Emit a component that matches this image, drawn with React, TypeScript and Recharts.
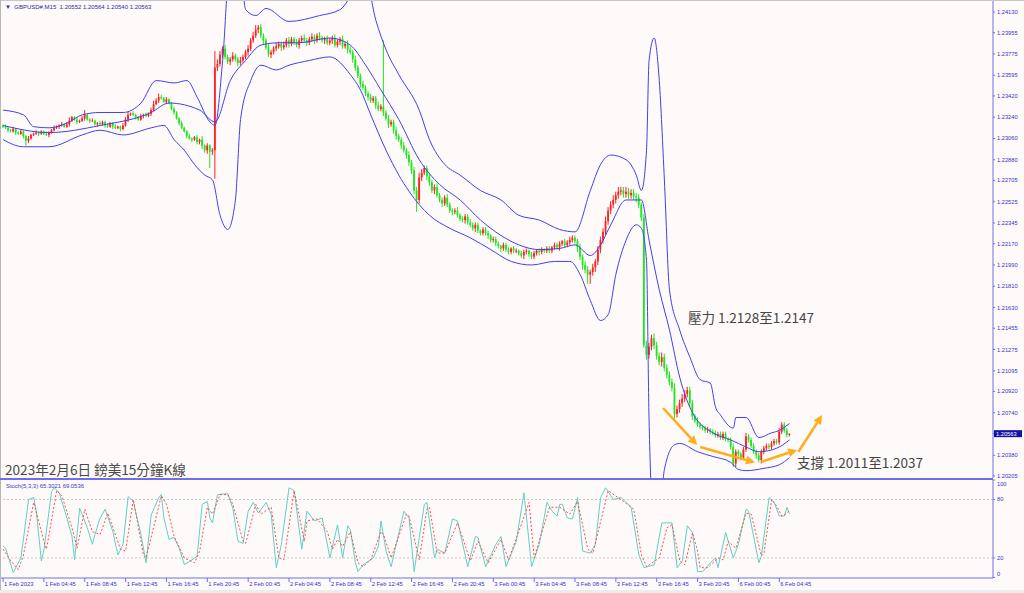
import React from 'react';
import { ComposedChart, Bar, Line, XAxis, YAxis, ReferenceLine } from 'recharts';

const BASE = 1.2;
const toPrice = (pips: number) => BASE + pips / 10000;

// GBPUSD M15 closes, pips above 1.20000 (bar 0 = 1 Feb 00:45)
const firstOpen = 317;
const closes = [
  316, 315, 313, 312, 314, 311, 310, 312, 308, 304, 306, 309, 310, 311, 310, 312, 310, 309, 311, 313,
  315, 316, 317, 318, 316, 318, 321, 324, 322, 320, 321, 323, 326, 322, 321, 321, 318, 319, 318, 320,
  317, 316, 319, 316, 315, 316, 314, 317, 322, 326, 327, 326, 324, 322, 325, 326, 325, 327, 330, 335,
  338, 341, 340, 337, 339, 336, 331, 328, 323, 319, 315, 312, 308, 306, 305, 307, 303, 305, 300, 296,
  300, 295, 296, 366, 369, 377, 382, 375, 371, 373, 376, 373, 370, 372, 375, 379, 382, 389, 393, 398,
  400, 393, 389, 383, 377, 379, 382, 384, 386, 383, 385, 389, 386, 390, 387, 385, 389, 391, 389, 387,
  390, 392, 389, 393, 391, 389, 390, 387, 389, 391, 385, 388, 390, 384, 386, 381, 379, 373, 366, 359,
  352, 349, 344, 341, 338, 340, 334, 331, 333, 328, 323, 318, 320, 313, 308, 305, 300, 296, 292, 286,
  279, 262, 254, 273, 277, 281, 274, 269, 262, 265, 258, 254, 251, 256, 250, 245, 244, 245, 241, 238,
  237, 240, 235, 233, 230, 233, 228, 226, 229, 226, 224, 220, 221, 217, 215, 213, 216, 212, 210, 213,
  211, 211, 209, 207, 210, 211, 208, 206, 209, 211, 210, 212, 211, 213, 211, 214, 216, 214, 217, 219,
  216, 218, 220, 222, 219, 214, 206, 199, 195, 191, 193, 197, 202, 212, 220, 227, 236, 245, 250, 254,
  258, 261, 262, 259, 261, 258, 260, 257, 256, 250, 239, 131, 123, 130, 137, 131, 122, 117, 121, 112,
  106, 100, 95, 73, 77, 82, 86, 90, 93, 82, 71, 67, 64, 62, 61, 59, 60, 58, 57, 55,
  56, 53, 56, 52, 51, 45, 31, 41, 39, 36, 43, 54, 51, 46, 41, 38, 34, 41, 44, 46,
  45, 48, 50, 49, 58, 64, 59, 55.2, 56.3,
];
const wickUp = [
  1, 2, 1, 1, 2, 1, 1, 2, 1, 1, 2, 1, 1, 2, 1, 1, 1, 2, 1, 1,
  2, 1, 1, 2, 1, 2, 3, 1, 1, 2, 1, 2, 4, 1, 1, 2, 1, 1, 2, 1,
  1, 2, 1, 1, 2, 1, 1, 2, 2, 3, 1, 2, 1, 1, 2, 1, 2, 1, 2, 3,
  2, 3, 2, 1, 2, 1, 1, 2, 1, 1, 2, 1, 1, 2, 1, 1, 2, 1, 3, 1,
  2, 1, 2, 14, 4, 3, 2, 3, 2, 2, 3, 2, 2, 3, 2, 2, 3, 2, 3, 4,
  2, 3, 2, 2, 3, 2, 2, 3, 2, 2, 3, 2, 3, 2, 2, 3, 2, 2, 3, 2,
  2, 3, 2, 2, 3, 2, 2, 3, 2, 2, 3, 2, 2, 3, 2, 3, 3, 2, 3, 2,
  2, 3, 2, 2, 3, 2, 2, 3, 2, 56, 2, 3, 2, 2, 3, 2, 2, 3, 2, 3,
  2, 3, 3, 4, 3, 2, 2, 3, 2, 2, 3, 2, 2, 2, 3, 2, 2, 2, 3, 2,
  2, 2, 2, 3, 2, 2, 2, 1, 2, 2, 2, 1, 2, 2, 2, 1, 2, 2, 2, 1,
  2, 2, 1, 2, 2, 2, 1, 2, 2, 1, 2, 2, 1, 2, 2, 1, 2, 2, 2, 1,
  2, 2, 3, 2, 2, 2, 3, 2, 3, 3, 2, 3, 2, 3, 3, 3, 4, 3, 3, 4,
  3, 4, 3, 3, 4, 3, 3, 3, 3, 3, 2, 3, 4, 3, 3, 4, 3, 3, 4, 3,
  3, 3, 3, 4, 3, 3, 4, 3, 3, 3, 3, 2, 3, 2, 2, 2, 2, 1, 2, 2,
  2, 2, 2, 2, 1, 2, 3, 2, 2, 2, 2, 3, 2, 2, 2, 2, 2, 2, 2, 2,
  2, 2, 2, 2, 3, 2, 2, 2, 0.1,
];
const wickDn = [
  1, 1, 2, 1, 1, 2, 1, 1, 2, 4, 2, 1, 1, 1, 2, 1, 1, 1, 2, 1,
  1, 1, 2, 1, 1, 1, 2, 1, 1, 2, 1, 1, 2, 1, 2, 1, 1, 2, 1, 1,
  2, 1, 1, 2, 1, 1, 2, 1, 1, 2, 1, 1, 2, 1, 1, 2, 1, 1, 2, 1,
  1, 2, 1, 1, 2, 1, 1, 2, 1, 2, 1, 1, 2, 1, 2, 1, 2, 2, 3, 2,
  3, 14, 3, 24, 3, 2, 3, 2, 2, 3, 2, 2, 3, 2, 2, 2, 3, 2, 2, 2,
  3, 2, 3, 2, 2, 3, 2, 2, 2, 3, 2, 2, 3, 2, 2, 2, 3, 2, 2, 3,
  2, 2, 3, 2, 2, 2, 3, 2, 2, 3, 2, 2, 3, 2, 2, 3, 2, 3, 3, 2,
  3, 2, 2, 3, 2, 2, 3, 2, 2, 3, 2, 3, 2, 3, 3, 2, 3, 2, 3, 3,
  3, 3, 10, 3, 3, 2, 3, 3, 2, 3, 2, 2, 3, 2, 2, 2, 3, 2, 2, 2,
  2, 3, 2, 2, 2, 3, 2, 2, 2, 2, 3, 2, 2, 2, 2, 3, 2, 2, 2, 2,
  2, 2, 2, 2, 3, 2, 2, 2, 2, 2, 3, 2, 2, 2, 2, 2, 2, 2, 3, 2,
  2, 2, 2, 2, 2, 4, 3, 4, 3, 8, 8, 3, 4, 3, 3, 3, 3, 3, 3, 3,
  3, 3, 3, 3, 3, 3, 3, 3, 4, 3, 3, 2, 4, 3, 3, 3, 3, 3, 4, 3,
  3, 3, 3, 4, 3, 3, 3, 3, 3, 3, 3, 2, 2, 2, 2, 2, 2, 2, 2, 2,
  2, 2, 2, 2, 2, 2, 3, 3, 2, 2, 2, 2, 2, 2, 2, 3, 2, 3, 2, 2,
  2, 2, 2, 2, 2, 2, 2, 2, 1.2,
];

// Bollinger bands: [bar, pips]
const bbUpper = [
  [0, 330], [8, 326], [12, 316], [18, 315], [25, 319], [31, 326], [38, 328], [47, 328], [54, 336],
  [60, 355], [67, 353], [72, 355], [76, 341], [81, 320], [83, 317], [86, 372], [89, 457], [93, 449],
  [95, 415], [99, 410], [103, 416], [112, 405], [124, 410], [132, 415], [138, 432], [142, 440],
  [146, 406], [150, 381], [155, 360], [163, 330], [167, 305], [173, 284], [179, 275], [187, 262],
  [195, 254], [202, 241], [210, 237], [218, 229], [224, 227], [230, 262], [234, 284], [238, 292],
  [244, 288], [248, 275], [250, 262], [252, 296], [253, 372], [255, 391], [257, 355], [259, 271],
  [261, 178], [265, 144], [269, 121], [273, 102], [277, 99], [279, 79], [281, 72], [286, 61],
  [287, 70], [291, 70], [296, 53], [301, 57], [304, 59], [308, 65],
];
const bbMiddle = [
  [0, 317], [18, 311], [38, 317], [58, 328], [65, 336], [77, 330], [83, 320], [89, 355], [95, 372],
  [101, 385], [108, 387], [116, 387], [128, 391], [136, 385], [142, 368], [148, 347], [155, 322],
  [163, 288], [171, 267], [179, 254], [187, 237], [195, 224], [202, 216], [210, 212], [218, 213],
  [224, 216], [230, 207], [234, 216], [238, 233], [244, 254], [250, 254], [253, 220], [257, 178],
  [261, 144], [265, 104], [270, 74], [278, 57], [285, 51], [291, 45], [296, 41], [303, 44], [308, 51],
];
const bbLower = [
  [0, 305], [8, 299], [18, 299], [31, 309], [38, 313], [47, 309], [58, 315], [63, 317], [67, 305],
  [71, 296], [75, 284], [79, 275], [82, 271], [85, 241], [88, 229], [91, 254], [93, 322], [97, 355],
  [101, 368], [107, 364], [112, 368], [120, 372], [128, 375], [136, 360], [140, 347], [144, 326],
  [150, 296], [155, 275], [163, 250], [167, 241], [175, 230], [183, 222], [191, 212], [199, 202],
  [207, 199], [216, 202], [222, 202], [226, 191], [230, 169], [234, 152], [237, 157], [240, 191],
  [244, 220], [248, 233], [250, 230], [252, 203], [253, 68], [255, -25], [257, -17], [259, 26],
  [263, 47], [265, 48], [272, 41], [278, 37], [285, 32], [288, 26], [291, 25], [298, 27], [304, 30],
  [308, 36],
];

// Stochastic (5,3,3): [bar, value]
const stochK = [
  [0, 32], [1, 30], [4, 5], [7, 20], [10, 80], [12, 82], [13, 68], [15, 17], [16, 28], [19, 88],
  [20, 92], [22, 87], [25, 61], [27, 42], [28, 18], [30, 71], [33, 51], [35, 34], [36, 44], [38, 61],
  [40, 70], [43, 47], [45, 23], [47, 34], [49, 83], [51, 78], [54, 44], [56, 15], [58, 64], [61, 82],
  [62, 85], [63, 61], [65, 39], [67, 41], [69, 30], [71, 13], [74, 18], [76, 22], [78, 75], [80, 78],
  [81, 61], [82, 56], [84, 85], [88, 86], [90, 71], [92, 37], [94, 35], [96, 68], [98, 77], [100, 66],
  [103, 77], [105, 65], [107, 10], [109, 34], [112, 92], [114, 89], [117, 29], [119, 68], [122, 58],
  [125, 61], [128, 20], [131, 54], [133, 20], [135, 53], [136, 49], [138, 15], [139, 6], [141, 13],
  [145, 20], [147, 32], [148, 58], [150, 27], [152, 11], [154, 34], [157, 68], [159, 61], [161, 6],
  [165, 75], [166, 77], [169, 20], [170, 29], [173, 25], [176, 60], [178, 58], [182, 11], [185, 42],
  [186, 41], [189, 11], [193, 34], [195, 42], [197, 11], [201, 37], [204, 87], [207, 11], [210, 34],
  [213, 77], [215, 68], [217, 63], [218, 75], [219, 75], [221, 61], [223, 60], [225, 82], [227, 27],
  [230, 25], [232, 34], [234, 82], [236, 92], [239, 80], [242, 82], [244, 77], [246, 72], [249, 23],
  [251, 10], [255, 13], [258, 56], [262, 56], [264, 10], [266, 17], [268, 53], [270, 46], [272, 6],
  [274, 6], [277, 15], [279, 20], [280, 10], [283, 46], [286, 20], [288, 34], [291, 70], [292, 68],
  [296, 15], [297, 22], [300, 82], [302, 77], [304, 63], [306, 63], [307, 72], [308, 65.3021],
];
const stochD = [
  [0, 29], [3, 17], [6, 8], [8, 23], [12, 77], [16, 37], [17, 29], [21, 89], [23, 84], [27, 51],
  [29, 30], [32, 70], [35, 47], [38, 44], [41, 66], [46, 29], [48, 27], [51, 80], [55, 23], [56, 20],
  [62, 84], [64, 75], [67, 42], [71, 20], [75, 15], [77, 27], [80, 72], [82, 65], [85, 85], [88, 85],
  [90, 75], [94, 37], [95, 35], [99, 75], [101, 65], [105, 72], [108, 20], [110, 18], [114, 89],
  [118, 37], [119, 58], [123, 60], [127, 47], [129, 29], [131, 39], [133, 32], [136, 47], [139, 15],
  [141, 11], [144, 18], [148, 47], [149, 44], [152, 20], [158, 65], [159, 63], [163, 18], [166, 70],
  [167, 72], [170, 25], [173, 25], [178, 56], [183, 17], [186, 37], [190, 15], [195, 39], [198, 18],
  [206, 77], [208, 20], [214, 72], [218, 72], [222, 65], [225, 78], [229, 29], [231, 25], [237, 89],
  [243, 78], [247, 70], [250, 23], [252, 11], [257, 20], [260, 51], [262, 54], [265, 17], [267, 13],
  [270, 46], [272, 27], [273, 10], [276, 10], [280, 20], [282, 18], [284, 37], [287, 30], [291, 66],
  [293, 65], [297, 22], [298, 25], [301, 80], [303, 73], [305, 63], [307, 66], [308, 69.0536],
];

const priceTicks = [
  1.2413, 1.23955, 1.23775, 1.23595, 1.2342, 1.2324, 1.2306, 1.2288, 1.22705, 1.22525, 1.22345,
  1.2217, 1.2199, 1.2181, 1.2163, 1.21455, 1.21275, 1.21095, 1.2092, 1.2074, 1.2038, 1.20205,
];
const stochTicks = [0, 20, 80, 100];
const timeTicks = [0, 16, 32, 48, 64, 80, 96, 112, 128, 144, 160, 176, 192, 208, 224, 240, 256, 272, 288, 304];
const timeLabels = [
  '1 Feb 2023', '1 Feb 04:45', '1 Feb 08:45', '1 Feb 12:45', '1 Feb 16:45', '1 Feb 20:45',
  '2 Feb 00:45', '2 Feb 04:45', '2 Feb 08:45', '2 Feb 12:45', '2 Feb 16:45', '2 Feb 20:45',
  '3 Feb 00:45', '3 Feb 04:45', '3 Feb 08:45', '3 Feb 12:45', '3 Feb 16:45', '3 Feb 20:45',
  '6 Feb 00:45', '6 Feb 04:45',
];

// hand-drawn orange arrows: [[bar, pips], [bar, pips]]
const arrows = [
  [[258.5, 78], [271.8, 46.7]],
  [[273, 45], [294.5, 32]],
  [[297, 32.5], [311, 42.5]],
  [[311.5, 41], [320.8, 72]],
];

const BG = '#fffafa';
const AXIS = '#6e6ee8';
const LABEL = '#3434c4';
const UP = '#ff1f1f';
const DOWN = '#1ee61e';
const BAND = '#4040f0';
const ORANGE = '#ffad1a';
const FONT = '"Liberation Sans", Arial, sans-serif';
const CJK = '"Noto Sans CJK TC", "Noto Sans", sans-serif';

const X_DOMAIN = [-1.2, 387.7];
const Y_DOMAIN = [toPrice(18.8), toPrice(423.15)];

const candles = closes.map((c, i) => {
  const o = i === 0 ? firstOpen : closes[i - 1];
  const h = Math.max(o, c) + wickUp[i];
  const l = Math.min(o, c) - wickDn[i];
  return { i, o: toPrice(o), c: toPrice(c), h: toPrice(h), l: toPrice(l), range: [toPrice(l), toPrice(h)] };
});
const lastClose = candles[candles.length - 1].c;

const band = (pts: number[][]) => pts.map(([i, v]) => ({ i, v: toPrice(v) }));
const series = (pts: number[][]) => pts.map(([i, v]) => ({ i, v }));

const Candle = (props: any) => {
  const { x, y, width, height, payload } = props;
  const top = Math.min(y, y + height);
  const span = Math.abs(height);
  const k = payload.h === payload.l ? 0 : span / (payload.h - payload.l);
  const yOf = (p: number) => top + (payload.h - p) * k;
  const cx = x + width / 2;
  const color = payload.c >= payload.o ? UP : DOWN;
  const bTop = yOf(Math.max(payload.o, payload.c));
  const bBot = yOf(Math.min(payload.o, payload.c));
  return (
    <g>
      <line x1={cx} x2={cx} y1={top} y2={top + span} stroke={color} strokeWidth={1} />
      <rect x={cx - 0.9} y={bTop} width={1.8} height={Math.max(bBot - bTop, 0.8)} fill={color} />
    </g>
  );
};

const Arrow = (props: any) => {
  const { x1, y1, x2, y2 } = props;
  const a = Math.atan2(y2 - y1, x2 - x1);
  const bx = x2 - 9 * Math.cos(a);
  const by = y2 - 9 * Math.sin(a);
  const px = -Math.sin(a) * 4.5;
  const py = Math.cos(a) * 4.5;
  return (
    <g>
      <line x1={x1} y1={y1} x2={bx} y2={by} stroke={ORANGE} strokeWidth={2.5} />
      <polygon points={`${x2},${y2} ${bx + px},${by + py} ${bx - px},${by - py}`} fill={ORANGE} />
    </g>
  );
};

const PriceTick = (props: any) => {
  const { x, y, payload } = props;
  const v = payload.value;
  if (Math.abs(v - lastClose) < 1e-7) {
    return (
      <g>
        <rect x={x - 3} y={y - 3.5} width={28} height={7} fill="#1212a6" />
        <text x={x - 1} y={y} dy={2} fontSize={5.7} fontFamily={FONT} fill="#ffffff">{v.toFixed(5)}</text>
      </g>
    );
  }
  return (
    <text x={x} y={y} dy={2} fontSize={5.7} fontFamily={FONT} fill={LABEL}>{v.toFixed(5)}</text>
  );
};

const StochTick = (props: any) => {
  const { x, y, payload } = props;
  const shift = payload.value === 100 ? 4 : payload.value === 0 ? -3.4 : 0;
  return (
    <text x={x} y={y + shift} dy={2} fontSize={5.7} fontFamily={FONT} fill={LABEL}>{payload.value}</text>
  );
};

const TimeTick = (props: any) => {
  const { x, y, payload } = props;
  const k = timeTicks.indexOf(payload.value);
  return (
    <text x={x + 1} y={y} dy={4} fontSize={5.8} fontFamily={FONT} fill={LABEL}>{timeLabels[k]}</text>
  );
};

export default function App() {
  return (
    <div style={{ position: 'absolute', left: 0, top: 0, width: 1024, height: 593, background: BG, overflow: 'hidden' }}>
      <div style={{ position: 'absolute', left: 0, top: 0 }}>
        <ComposedChart width={1024} height={478} data={candles} margin={{ top: 0, right: 0, bottom: 0, left: 0 }}>
          <XAxis dataKey="i" type="number" domain={X_DOMAIN} allowDataOverflow hide />
          <YAxis
            orientation="right"
            width={31}
            type="number"
            domain={Y_DOMAIN}
            allowDataOverflow
            ticks={[...priceTicks, lastClose]}
            interval={0}
            tick={<PriceTick />}
            tickSize={2}
            tickMargin={2}
            stroke={AXIS}
            axisLine={{ stroke: AXIS }}
            tickLine={{ stroke: AXIS }}
          />
          <Line data={band(bbUpper)} dataKey="v" type="monotone" stroke={BAND} strokeWidth={1} dot={false} isAnimationActive={false} />
          <Line data={band(bbMiddle)} dataKey="v" type="monotone" stroke={BAND} strokeWidth={1} dot={false} isAnimationActive={false} />
          <Line data={band(bbLower)} dataKey="v" type="monotone" stroke={BAND} strokeWidth={1} dot={false} isAnimationActive={false} />
          <Bar dataKey="range" barSize={3} shape={<Candle />} isAnimationActive={false} />
          {arrows.map((s, n) => (
            <ReferenceLine
              key={n}
              segment={[{ x: s[0][0], y: toPrice(s[0][1]) }, { x: s[1][0], y: toPrice(s[1][1]) }]}
              shape={Arrow}
            />
          ))}
        </ComposedChart>
      </div>

      <div style={{ position: 'absolute', left: 0, top: 478 }}>
        <ComposedChart width={1024} height={115} margin={{ top: 2, right: 0, bottom: 0, left: 0 }}>
          <XAxis
            dataKey="i"
            type="number"
            domain={X_DOMAIN}
            allowDataOverflow
            ticks={timeTicks}
            interval={0}
            height={15}
            tick={<TimeTick />}
            tickSize={4}
            tickMargin={0}
            stroke={AXIS}
          />
          <YAxis
            orientation="right"
            width={31}
            type="number"
            domain={[-0.6, 100]}
            allowDataOverflow
            ticks={stochTicks}
            interval={0}
            tick={<StochTick />}
            tickSize={2}
            tickMargin={2}
            stroke={AXIS}
          />
          <ReferenceLine y={80} stroke="#cccccc" strokeDasharray="2 2" />
          <ReferenceLine y={20} stroke="#cccccc" strokeDasharray="2 2" />
          <Line data={series(stochK)} dataKey="v" type="linear" stroke="#5fd0c6" strokeWidth={1} dot={false} isAnimationActive={false} />
          <Line data={series(stochD)} dataKey="v" type="linear" stroke="#ff4a4a" strokeWidth={1} strokeDasharray="2 2" dot={false} isAnimationActive={false} />
        </ComposedChart>
      </div>

      {/* frame lines */}
      <div style={{ position: 'absolute', left: 0, top: 0, width: 1024, height: 1, background: '#c8c8c8' }} />
      <div style={{ position: 'absolute', left: 0, top: 0, width: 1, height: 593, background: '#b8b8b8' }} />
      <div style={{ position: 'absolute', left: 0, top: 477.5, width: 993, height: 2, background: AXIS }} />
      <div style={{ position: 'absolute', left: 0, top: 590, width: 1024, height: 3, background: '#ececec' }} />

      {/* chart texts */}
      <div style={{ position: 'absolute', left: 5, top: 3, fontFamily: FONT, fontSize: 6, lineHeight: '8px', color: '#2a2a9a', whiteSpace: 'pre' }}>
        {'\u25BC  GBPUSD#,M15  1.20552 1.20564 1.20540 1.20563'}
      </div>
      <div style={{ position: 'absolute', left: 6, top: 482, fontFamily: FONT, fontSize: 5.9, lineHeight: '8px', color: '#3a3ac8', whiteSpace: 'pre' }}>
        {'Stoch(5,3,3) 65.3021 69.0536'}
      </div>
      <div style={{ position: 'absolute', left: 5, top: 461, fontFamily: CJK, fontSize: 13.6, lineHeight: '16px', color: '#4a4a4a', whiteSpace: 'pre' }}>
        2023年2月6日 鎊美15分鐘K線
      </div>
      <div style={{ position: 'absolute', left: 688, top: 309, fontFamily: CJK, fontSize: 13.5, lineHeight: '16px', color: '#444444', whiteSpace: 'pre' }}>
        壓力 1.2128至1.2147
      </div>
      <div style={{ position: 'absolute', left: 797, top: 454, fontFamily: CJK, fontSize: 13.5, lineHeight: '16px', color: '#444444', whiteSpace: 'pre' }}>
        支撐 1.2011至1.2037
      </div>
    </div>
  );
}
